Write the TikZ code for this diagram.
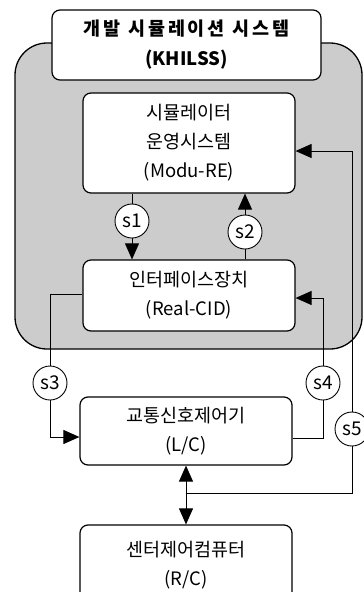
\documentclass[tikz,border=0pt]{standalone}
\usepackage{fontspec}
\setmainfont{Noto Sans CJK KR}
\usetikzlibrary{arrows.meta}
\definecolor{shade}{gray}{0.8}
\tikzset{
  box/.style={draw, line width=1.2pt, rounded corners=8pt, fill=white, align=center,
    minimum width=212pt, inner sep=0pt, font=\fontsize{18.5}{29}\selectfont},
  tag/.style={draw, circle, line width=0.9pt, fill=white, minimum size=34pt, inner sep=0pt,
    font=\fontsize{19}{19}\selectfont},
  conn/.style={line width=0.9pt},
  arr/.style={conn, -{Triangle[length=16pt,width=14pt]}},
  darr/.style={conn, {Triangle[length=16pt,width=14pt]}-{Triangle[length=16pt,width=14pt]}},
}
\begin{document}
\begin{tikzpicture}[x=1pt,y=-1pt]
\useasboundingbox (0,0) rectangle (364,592);
% shaded system region
\draw[line width=1.3pt, fill=shade, rounded corners=32pt] (15,43) rectangle (362,349);
% title
\node[box, minimum width=269pt, minimum height=70pt,
  font=\fontsize{18.5}{30}\selectfont\bfseries] (title) at (186.5,45)
  {{\addfontfeature{LetterSpace=16}개발 시뮬레이션 시스템}\\(KHILSS)};
\node[box, minimum height=100pt] (modu) at (189,143) {시뮬레이터\\운영시스템\\(Modu-RE)};
\node[box, minimum height=71pt] (cid) at (189,295.5) {인터페이스장치\\(Real-CID)};
\node[box, minimum height=68pt] (lc) at (186,431) {교통신호제어기\\(L/C)};
\node[box, minimum height=80pt] (rc) at (186,565) {센터제어컴퓨터\\(R/C)};
% signal tags
\node[tag] (s1) at (132,221) {s1};
\node[tag] (s2) at (245,232) {s2};
\node[tag] (s3) at (50,383) {s3};
\node[tag] (s4) at (323,383) {s4};
\node[tag] (s5) at (352,429) {s5};
\coordinate (j) at (186,493);
% connectors
\draw[conn] (modu.south -| s1) -- (s1.north);
\draw[arr] (s1.south) -- (cid.north -| s1);
\draw[conn] (cid.north -| s2) -- (s2.south);
\draw[arr] (s2.north) -- (modu.south -| s2);
\draw[conn] ([yshift=1.5pt]cid.west) -| (s3.north);
\draw[arr] (s3.south) |- ([yshift=-6pt]lc.west);
\draw[conn] ([yshift=-7pt]lc.east) -| (s4.south);
\draw[arr] (s4.north) |- ([yshift=-2.5pt]cid.east);
\draw[darr] (lc.south) -- (rc.north);
\draw[conn] (j) -| (s5.south);
\draw[arr] (s5.north) |- ([yshift=-8pt]modu.east);
\end{tikzpicture}
\end{document}
